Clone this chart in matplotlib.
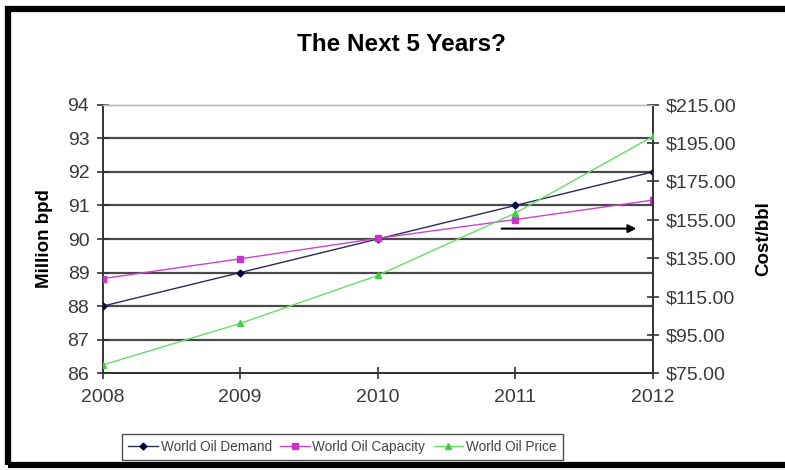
import matplotlib
matplotlib.use('Agg')
import matplotlib.pyplot as plt
from matplotlib.patches import Rectangle
from matplotlib.ticker import FormatStrFormatter

plt.rcParams['font.family'] = ['Liberation Sans', 'DejaVu Sans']

years = [2008, 2009, 2010, 2011, 2012]
demand = [88.0, 89.0, 90.0, 91.0, 92.0]
capacity = [88.82, 89.41, 90.02, 90.58, 91.16]
price = [79.3, 101.0, 126.0, 158.5, 198.5]

bpd_ticks = [86, 87, 88, 89, 90, 91, 92, 93, 94]
cost_ticks = [75, 95, 115, 135, 155, 175, 195, 215]

fig = plt.figure(figsize=(7.85, 4.70), dpi=100)
ax = fig.add_axes([0.1306, 0.2057, 0.7012, 0.5715])
ax2 = ax.twinx()

# horizontal grid on the bpd scale
for v in bpd_ticks[1:-1]:
    ax.axhline(v, color='#4a4a4a', lw=1.6, zorder=1)

l1, = ax.plot(years, demand, color='#2b2b55', lw=1.0, marker='D', ms=3.5,
              mfc='#000040', mec='#000040', label='World Oil Demand', zorder=3)
l2, = ax.plot(years, capacity, color='#cc44cc', lw=1.0, marker='s', ms=4.5,
              mfc='#cc33cc', mec='#cc33cc', label='World Oil Capacity', zorder=3)
l3, = ax2.plot(years, price, color='#66dd66', lw=1.0, marker='^', ms=5,
               mfc='#44cc44', mec='#44cc44', label='World Oil Price', zorder=3)

ax.annotate('', xy=(2011.9, 90.31), xytext=(2010.88, 90.31),
            arrowprops=dict(arrowstyle='-|>', color='black', lw=1.5,
                            mutation_scale=12), zorder=4)

ax.set_xlim(2008, 2012)
ax.set_ylim(86, 94)
ax2.set_ylim(75, 215)
ax.set_xticks(years)
ax.set_yticks(bpd_ticks)
ax2.set_yticks(cost_ticks)
ax2.yaxis.set_major_formatter(FormatStrFormatter('$%.2f'))

for a in (ax, ax2):
    a.tick_params(direction='inout', length=9, width=1.2, color='#333333',
                  labelsize=14, labelcolor='#3a3a3a', pad=5)
    for s in a.spines.values():
        s.set_color('#333333')
        s.set_linewidth(1.4)
    a.spines['top'].set_color('#bbbbbb')
    a.spines['top'].set_linewidth(1.0)
ax.tick_params(axis='x', pad=7)
ax2.spines['left'].set_visible(False)
ax.spines['right'].set_visible(False)

ax.set_ylabel('Million bpd', fontsize=13.5, fontweight='bold', labelpad=10.5)
ax2.set_ylabel('Cost/bbl', fontsize=13.5, fontweight='bold', labelpad=13)
fig.text(0.512, 0.905, 'The Next 5 Years?', ha='center', va='center',
         fontsize=17.5, fontweight='bold')

leg = fig.legend([l1, l2, l3], [l.get_label() for l in (l1, l2, l3)],
                 loc='center', bbox_to_anchor=(0.436, 0.049), ncol=3,
                 fontsize=9.8, frameon=True, fancybox=False, handlelength=2.2,
                 handletextpad=0.2, columnspacing=0.6, borderpad=0.45,
                 labelcolor='#444444')
leg.get_frame().set_edgecolor('#222222')
leg.get_frame().set_linewidth(1.0)

# thick black frame around the chart
fig.patches.append(Rectangle((0.0108, 0.0106), 1.05, 0.9692,
                             transform=fig.transFigure, fill=False,
                             edgecolor='black', lw=4.5))

fig.savefig('out.png', dpi=100)
